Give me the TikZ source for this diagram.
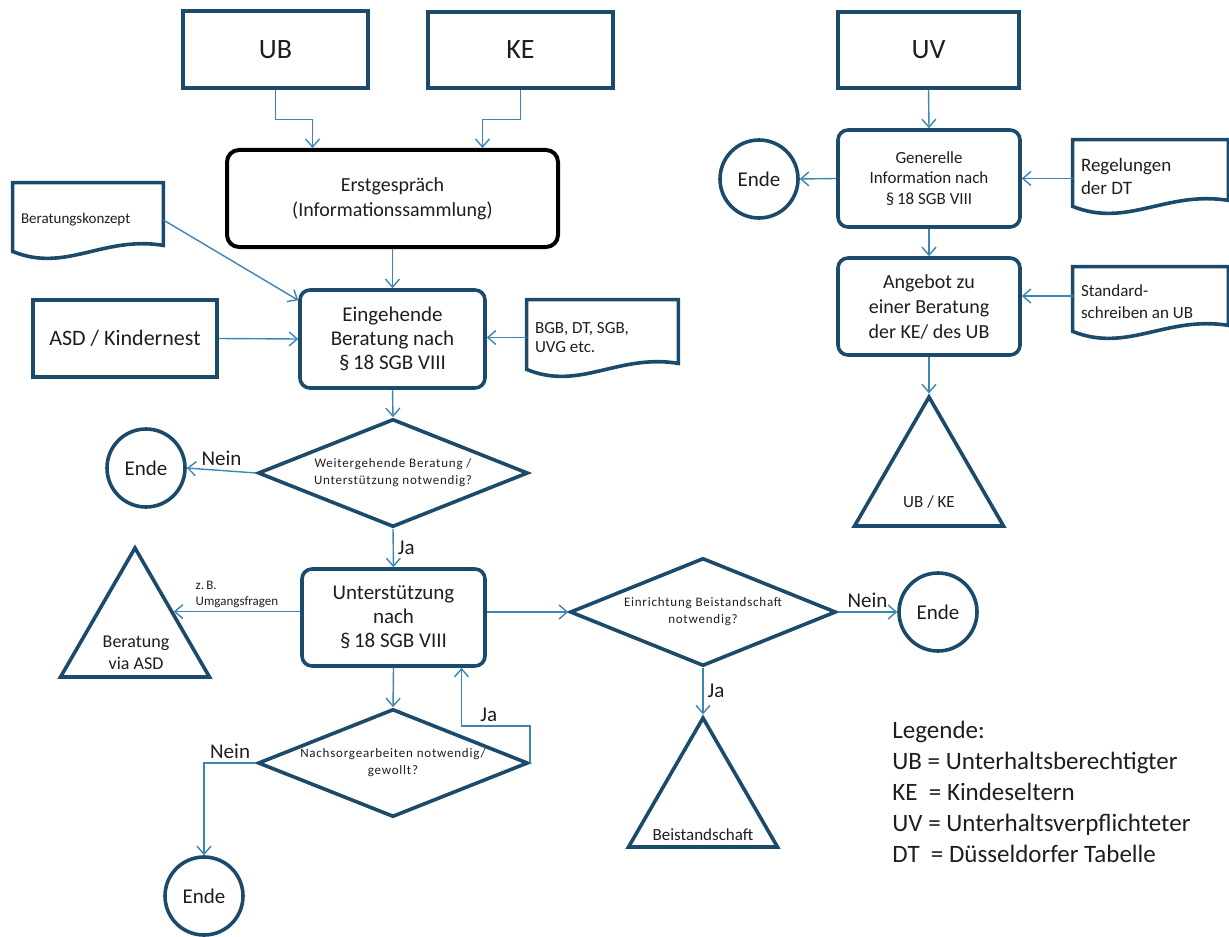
\documentclass[tikz,border=0pt]{standalone}
\usepackage{fontspec}
\setmainfont{Carlito}
\newfontfamily\spaced[LetterSpace=6]{Carlito}
\usetikzlibrary{shapes.geometric,arrows.meta,calc}
\definecolor{boxblue}{HTML}{1C4A6B}
\definecolor{arrowblue}{HTML}{3A86B4}
\definecolor{textgray}{HTML}{1E1E1E}

\begin{document}
\begin{tikzpicture}[x=0.5pt,y=-0.5pt,
	every node/.style={text=textgray},
	plainbox/.style={rectangle,draw=boxblue,line width=1.8pt,align=center,inner sep=2pt},
	roundbox/.style={plainbox,rounded corners=5pt},
	docbox/.style={rectangle,align=flush left,inner xsep=4pt,inner ysep=0pt},
	decision/.style={diamond,aspect=2.5,draw=boxblue,line width=1.8pt,align=center,inner sep=0pt,
		minimum width=135pt,minimum height=54pt,font=\spaced\fontsize{6.5}{8.5}\selectfont},
	terminal/.style={circle,draw=boxblue,line width=1.8pt,minimum size=39pt,inner sep=0pt,
		font=\fontsize{10.5}{12}\selectfont},
	endtri/.style={regular polygon,regular polygon sides=3,draw=boxblue,line width=1.8pt,
		minimum size=86pt,inner sep=0pt},
	arr/.style={draw=arrowblue,line width=0.7pt,-{Straight Barb[length=4pt,width=7pt]}},
	lbl/.style={font=\fontsize{10.5}{12}\selectfont,inner sep=2pt},
	bigfont/.style={font=\fontsize{14}{16}\selectfont},
	midfont/.style={font=\fontsize{10.5}{12}\selectfont}]

	\useasboundingbox (0,0) rectangle (1229,936);

	%top boxes
	\node[plainbox,bigfont,minimum width=92.5pt,minimum height=38.5pt] (ub) at (275.5,49.5) {UB};
	\node[plainbox,bigfont,minimum width=92.5pt,minimum height=38pt] (ke) at (520.5,50) {KE};
	\node[plainbox,bigfont,minimum width=90.5pt,minimum height=38pt] (uv) at (928.5,50) {UV};

	%left column
	\node[roundbox,draw=black,line width=2pt,rounded corners=6pt,minimum width=165.5pt,minimum height=48.5pt,
		font=\fontsize{10}{12.5}\selectfont] (erst) at (392.5,198.5) {Erstgespräch\\(Informationssammlung)};
	\node[docbox,text width=67pt,minimum height=37pt,font=\fontsize{7.5}{9}\selectfont] (konzept) at (88,220) {Beratungskonzept};
	\node[roundbox,midfont,minimum width=92.5pt,minimum height=49pt] (eingehend) at (392.5,339) {Eingehende\\Beratung nach\\§\,18 SGB VIII};
	\node[plainbox,font=\fontsize{11}{13}\selectfont,minimum width=92pt,minimum height=38.5pt] (asd) at (125,338.5) {ASD / Kindernest};
	\node[docbox,text width=67.5pt,minimum height=37.5pt,font=\fontsize{8.5}{9.5}\selectfont] (gesetz) at (602.5,337.5) {BGB, DT, SGB,\\UVG etc.};
	\node[decision] (frage1) at (393,473) {Weitergehende Beratung /\\Unterstützung notwendig?};
	\node[terminal] (ende1) at (146,468) {Ende};
	\node[roundbox,midfont,minimum width=91.5pt,minimum height=48.5pt] (unter) at (393.5,617.5) {Unterstützung\\nach\\§\,18 SGB VIII};
	\node[endtri] (asdtri) at (135,634) {};
	\node[font=\fontsize{9}{11}\selectfont,align=center] (asdtxt) at (136,653) {Beratung\\via ASD};
	\node[decision] (frage3) at (393,763) {Nachsorgearbeiten notwendig/\\gewollt?};
	\node[terminal] (ende3) at (204,896) {Ende};

	%middle
	\node[decision,minimum width=133pt] (frage2) at (703,612) {Einrichtung Beistandschaft\\notwendig?};
	\node[terminal] (ende2) at (938,612) {Ende};
	\node[endtri] (beitri) at (703,804) {};
	\node[font=\fontsize{8.5}{10}\selectfont] (beitxt) at (703,835) {Beistandschaft};

	%right column
	\node[roundbox,font=\fontsize{8.5}{10.3}\selectfont,minimum width=91pt,minimum height=48.5pt] (generell) at (929,178.5) {Generelle\\Information nach\\§\,18 SGB VIII};
	\node[terminal] (ende4) at (759,179) {Ende};
	\node[docbox,text width=69.5pt,minimum height=36pt,font=\fontsize{9.5}{11.5}\selectfont] (regeln) at (1150.5,176) {Regelungen\\der DT};
	\node[roundbox,font=\fontsize{10}{12.5}\selectfont,minimum width=91pt,minimum height=48.5pt] (angebot) at (929,306.5) {Angebot zu\\einer Beratung\\der KE/ des UB};
	\node[docbox,text width=69.5pt,minimum height=35pt,font=\fontsize{8.5}{11}\selectfont] (standard) at (1150.5,302) {Standard-\\schreiben an UB};
	\node[endtri] (uvtri) at (929,483) {};
	\node[font=\fontsize{8.5}{10}\selectfont] (uvtxt) at (929,502) {UB / KE};

	%legend
	\node[anchor=north west,align=flush left,inner sep=0pt,font=\fontsize{12.5}{15.5}\selectfont] (legende) at (892,721)
		{Legende:\\UB = Unterhaltsberechtigter\\KE~ = Kindeseltern\\UV = Unterhaltsverpflichteter\\DT~ = Düsseldorfer Tabelle};

	%document outlines
	\foreach \d in {konzept,gesetz,regeln,standard}
		\draw[boxblue,line width=1.8pt] ([yshift=3pt]\d.south west) -- (\d.north west) -- (\d.north east) -- ([yshift=6pt]\d.south east)
			.. controls ($(\d.south west)!0.6!(\d.south east)+(0,-22)$) and ($(\d.south west)!0.35!(\d.south east)+(0,16)$) .. ([yshift=3pt]\d.south west) -- cycle;

	%edges
	\draw[arr] (ub.south) -- ++(0,30) -| ([xshift=-40pt]erst.north);
	\draw[arr] (ke.south) -- ++(0,30) -| ([xshift=45pt]erst.north);
	\draw[arr] (erst.south) -- (eingehend.north);
	\draw[arr] (konzept.east) -- ([yshift=-6pt]eingehend.north west);
	\draw[arr] (asd.east) -- (eingehend.west);
	\draw[arr] (gesetz.west) -- (gesetz.west -| eingehend.east);
	\draw[arr] (eingehend.south) -- (frage1.north);
	\draw[arr] (frage1.west) -- node[lbl,above] {Nein} (ende1.east);
	\draw[arr] (frage1.south) -- node[lbl,right] {Ja} (unter.north);
	\draw[arr] (unter.west |- asdtri.side 3) -- node[above,align=flush left,inner sep=1.5pt,font=\fontsize{6.5}{8}\selectfont] {z.\,B.\\Umgangsfragen} (asdtri.side 3);
	\draw[arr] (unter.east |- frage2.west) -- (frage2.west);
	\draw[arr] (frage2.east) -- node[lbl,above] {Nein} (ende2.west);
	\draw[arr] (frage2.south) -- node[lbl,right] {Ja} (beitri.corner 1);
	\draw[arr] (unter.south) -- (frage3.north);
	\draw[arr] (frage3.east) -- ++(0,-37) -| node[lbl,above,pos=0.3] {Ja} ([xshift=34pt]unter.south);
	\draw[arr] (frage3.west) -| node[lbl,above,pos=0.25] {Nein} (ende3.north);

	%right edges
	\draw[arr] (uv.south) -- (generell.north);
	\draw[arr] (generell.west) -- (ende4.east);
	\draw[arr] (regeln.west |- generell.east) -- (generell.east);
	\draw[arr] (generell.south) -- (angebot.north);
	\draw[arr] ([yshift=3pt]standard.west) -- ([yshift=3pt]standard.west -| angebot.east);
	\draw[arr] (angebot.south) -- (uvtri.corner 1);
\end{tikzpicture}
\end{document}
